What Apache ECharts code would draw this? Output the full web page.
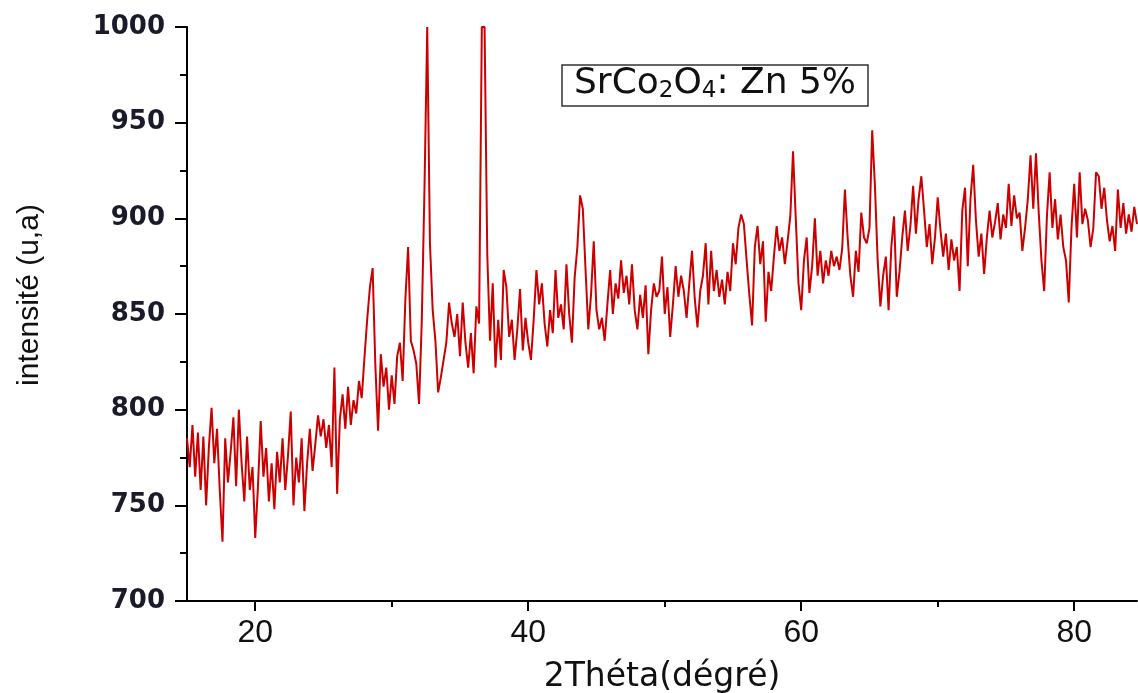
<!DOCTYPE html>
<html>
<head>
<meta charset="utf-8">
<script src="https://cdn.jsdelivr.net/npm/echarts@6/dist/echarts.min.js"></script>
<style>
  html, body { margin: 0; padding: 0; background: #fff; }
  #chart { width: 1138px; height: 693px; }
</style>
</head>
<body>
<div id="chart"></div>
<script>
// 2theta sampling of the scan
var thetaStart = 15;
var thetaStep = 0.2;

// intensity, one value per step, 15.0 .. 84.6
var intensity = [
  // 15 - 19.8
  785, 770, 792, 765, 788, 758, 786, 750, 780, 801, 772, 790, 758, 731, 785, 762, 778, 796, 760, 800, 772, 752, 786, 758, 770,
  // 20 - 24.8
  733, 760, 794, 765, 780, 752, 772, 748, 778, 762, 785, 758, 776, 799, 750, 775, 762, 785, 747, 772, 790, 768, 782, 797, 786,
  // 25 - 29.8
  795, 780, 792, 770, 822, 756, 795, 808, 790, 812, 792, 805, 798, 815, 806, 827, 847, 864, 874, 823, 789, 829, 812, 822, 800,
  // 30 - 34.8
  818, 803, 828, 835, 815, 858, 885, 836, 831, 824, 803, 846, 916, 1000, 887, 852, 836, 809, 817, 826, 835, 856, 845, 838, 850,
  // 35 - 39.8
  828, 856, 835, 822, 840, 819, 854, 845, 1000, 1000, 881, 836, 866, 822, 847, 826, 873, 864, 838, 847, 826, 842, 863, 831, 848,
  // 40 - 44.8
  835, 826, 847, 873, 855, 866, 845, 833, 852, 840, 873, 848, 855, 842, 876, 850, 835, 869, 885, 912, 905, 873, 842, 860, 888,
  // 45 - 49.8
  852, 842, 848, 836, 855, 873, 850, 866, 858, 878, 861, 870, 855, 876, 852, 842, 860, 848, 865, 829, 852, 866, 859, 862, 880,
  // 50 - 54.8
  850, 864, 838, 855, 875, 859, 870, 862, 848, 866, 883, 858, 843, 862, 870, 887, 855, 883, 862, 873, 859, 868, 855, 872, 862,
  // 55 - 59.8
  887, 876, 895, 902, 897, 878, 860, 844, 885, 896, 876, 888, 846, 872, 862, 880, 896, 883, 890, 876, 888, 901, 935, 900, 866,
  // 60 - 64.8
  852, 878, 890, 861, 875, 900, 870, 883, 866, 878, 870, 883, 875, 880, 873, 884, 915, 890, 870, 859, 883, 872, 903, 890, 887,
  // 65 - 69.8
  895, 946, 917, 878, 854, 870, 880, 852, 885, 901, 859, 872, 890, 904, 883, 896, 917, 892, 910, 922, 904, 885, 897, 876, 890,
  // 70 - 74.8
  911, 894, 880, 892, 873, 889, 878, 885, 862, 904, 916, 875, 910, 928, 899, 880, 892, 871, 890, 904, 890, 898, 908, 889, 902,
  // 75 - 79.8
  895, 918, 896, 912, 900, 903, 883, 895, 910, 933, 905, 934, 903, 878, 862, 901, 924, 895, 910, 889, 902, 885, 878, 856, 895,
  // 80 - 84.6
  918, 890, 924, 897, 905, 899, 885, 895, 924, 922, 905, 916, 899, 888, 896, 883, 915, 895, 908, 892, 902, 893, 906, 897
];

var xMajorTicks = [20, 40, 60, 80];
var xMinorTicks = [30, 50, 70];

var chart = echarts.init(document.getElementById("chart"), null, {renderer: "canvas"});

var points = intensity.map(function (v, i) {
  return [+(thetaStart + i * thetaStep).toFixed(1), v];
});

var axisBlack = {lineStyle: {color: "#000", width: 2}};

chart.setOption({
  animation: false,
  backgroundColor: "#fff",
  grid: {left: 187, right: 1, top: 27, bottom: 92, outerBoundsMode: "none", containLabel: false},
  title: {
    left: 562,
    top: 64,
    padding: [1, 12, 3, 12],
    borderColor: "#333",
    borderWidth: 1.5,
    text: "{a|SrCo}{b|2}{a|O}{b|4}{a|: Zn 5%}",
    textStyle: {
      fontWeight: "normal",
      rich: {
        a: {fontFamily: "DejaVu Sans", fontSize: 36, fontWeight: "normal", color: "#111", lineHeight: 38, verticalAlign: "middle"},
        b: {fontFamily: "DejaVu Sans", fontSize: 23, fontWeight: "normal", color: "#111", lineHeight: 22, verticalAlign: "bottom"}
      }
    }
  },
  xAxis: [
    {
      type: "value",
      min: 15,
      max: 84.6,
      axisLine: axisBlack,
      splitLine: {show: false},
      axisTick: {customValues: xMajorTicks, length: 10, lineStyle: {color: "#000", width: 2}},
      axisLabel: {
        customValues: xMajorTicks,
        margin: 16,
        fontFamily: "Liberation Sans Narrow, Liberation Sans",
        fontSize: 32,
        color: "#111"
      },
      name: "2Théta(dégré)",
      nameLocation: "middle",
      nameGap: 60,
      nameTextStyle: {fontFamily: "DejaVu Sans", fontSize: 33, color: "#111"}
    },
    {
      type: "value",
      min: 15,
      max: 84.6,
      position: "bottom",
      axisLine: {show: false},
      splitLine: {show: false},
      axisTick: {customValues: xMinorTicks, length: 6, lineStyle: {color: "#000", width: 2}},
      axisLabel: {show: false}
    }
  ],
  yAxis: {
    type: "value",
    min: 700,
    max: 1000,
    interval: 50,
    axisLine: {show: true, lineStyle: {color: "#000", width: 2}},
    splitLine: {show: false},
    axisTick: {length: 12, lineStyle: {color: "#000", width: 2}},
    minorTick: {show: true, splitNumber: 2, length: 7, lineStyle: {color: "#000", width: 2}},
    axisLabel: {
      margin: 22,
      fontFamily: "DejaVu Sans",
      fontWeight: "bold",
      fontSize: 26,
      color: "#1a1a2a",
      formatter: function (v) { return String(v); }
    }
  },
  graphic: [
    {
      type: "text",
      x: 30,
      y: 295,
      rotation: Math.PI / 2,
      style: {
        text: "intensité (u,a)",
        fontFamily: "Liberation Sans",
        fontSize: 30,
        fill: "#111",
        textAlign: "center",
        textVerticalAlign: "middle"
      }
    }
  ],
  series: [
    {
      type: "line",
      data: points,
      showSymbol: false,
      clip: true,
      lineStyle: {color: "#cc0000", width: 2},
      itemStyle: {color: "#cc0000"}
    }
  ]
});

window.addEventListener("resize", function () {
  chart.resize();
});
</script>
</body>
</html>
